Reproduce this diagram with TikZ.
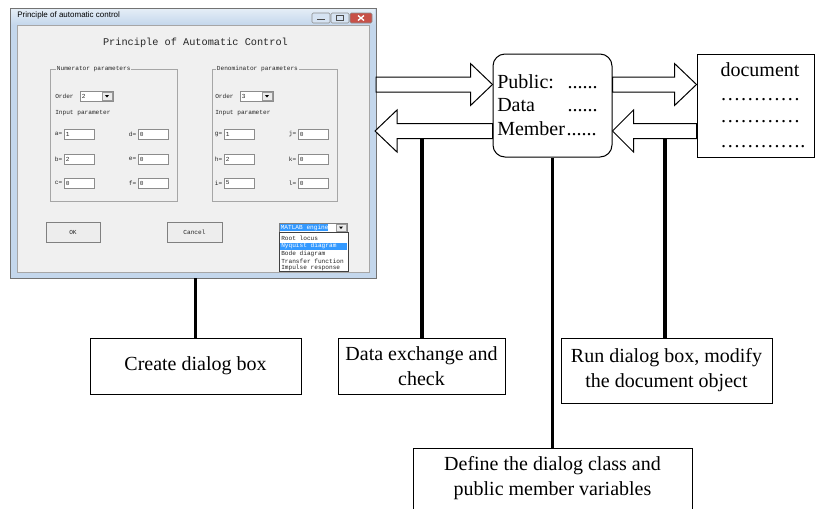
\documentclass[tikz,border=0pt]{standalone}
\usepackage{fontspec}
\setmainfont{Liberation Serif}
\newfontfamily\dlgfont{Liberation Mono}
\newfontfamily\winfont{Liberation Sans}
\usetikzlibrary{calc,positioning}
\definecolor{winframe}{RGB}{196,215,236}
\definecolor{wingray}{RGB}{240,240,240}
\definecolor{selblue}{RGB}{51,153,255}
\definecolor{closered}{RGB}{199,80,72}
\tikzset{
  dlgtext/.style={font=\dlgfont\fontsize{4.6}{5}\selectfont, inner sep=0pt, text=black!85},
  maintext/.style={font=\fontsize{15}{18.75}\selectfont, inner sep=0pt},
  textbox/.style={draw, line width=0.75pt, fill=white, align=center, inner sep=0pt, font=\fontsize{15}{18.75}\selectfont},
  hollowarrow/.style={draw, line width=0.75pt, fill=white},
  stem/.style={line width=2.3pt},
}
\def\editbox(#1,#2)#3#4{\draw[fill=white, draw=black!45] (#1,#2) rectangle ++(30,10);
  \node[dlgtext, anchor=east] at (#1-1.5,#2+5) {#3};
  \node[dlgtext, anchor=west] at (#1+1.5,#2+5) {#4};}
\def\combobox(#1,#2)#3{\draw[fill=white, draw=black!45] (#1,#2) rectangle ++(33,10);
  \draw[fill=black!8, draw=black!40] (#1+22,#2+1) rectangle ++(10,8);
  \fill (#1+25,#2+4) -- ++(4,0) -- ++(-2,2.5) -- cycle;
  \node[dlgtext, anchor=west] at (#1+1.5,#2+5) {#3};}
\def\blockarrow[#1](#2)(#3){\draw[hollowarrow] ($(#2)+(0,-7.5)$) -- ($(#3)+(#1,-7.5)$) -- ($(#3)+(#1,-21)$) -- (#3)
  -- ($(#3)+(#1,21)$) -- ($(#3)+(#1,7.5)$) -- ($(#2)+(0,7.5)$) -- cycle;}

\begin{document}
\begin{tikzpicture}[x=0.75pt, y=-0.75pt]
		\useasboundingbox (0,0) rectangle (815,508);
		
		%%%%% dialog window %%%%%
		\draw[fill=winframe, draw=black!55] (10,8) rectangle (376,278);
		\shade[top color=white!55!winframe, bottom color=winframe] (11,9) rectangle (375,25);
		\node[font=\winfont\fontsize{6}{7}\selectfont, anchor=west, inner sep=0pt] (wintitle) at (17,15.5) {Principle of automatic control};
		\draw[fill=winframe!70, draw=black!45, rounded corners=1pt] (312,13) rectangle (330,23);
		\draw[line width=1pt, black!70] (317,19.5) -- (325,19.5);
		\draw[fill=winframe!70, draw=black!45, rounded corners=1pt] (331,13) rectangle (349,23);
		\draw[black!70] (336.5,15.5) rectangle (343.5,20.5);
		\draw[fill=closered, draw=black!45, rounded corners=1pt] (350,13) rectangle (372,23);
		\draw[white, line width=1pt] (358,15.5) -- (364,20.5) (358,20.5) -- (364,15.5);
		\draw[fill=wingray, draw=black!35] (17,25) rectangle (369,272);
		
		\node[font=\dlgfont\fontsize{7.7}{9}\selectfont, text=black!85, inner sep=0pt] (dlghead) at (195.5,43) {Principle of Automatic Control};
		
		\draw[draw=black!35] (50,69) rectangle (177,201);
		\node[dlgtext, fill=wingray, anchor=west, inner xsep=0.5pt] (numgroup) at (56,69) {Numerator parameters};
		\node[dlgtext, anchor=west] (numorder) at (55,96) {Order};
		\combobox(80,91){2}
		\node[dlgtext, anchor=west] (numinput) at (55,113) {Input parameter};
		\editbox(64,129){a=}{1}
		\editbox(64,154){b=}{2}
		\editbox(64,178){c=}{0}
		\editbox(138,129){d=}{0}
		\editbox(138,154){e=}{0}
		\editbox(138,178){f=}{0}
		
		\draw[draw=black!35] (212,69) rectangle (337,201);
		\node[dlgtext, fill=wingray, anchor=west, inner xsep=0.5pt] (dengroup) at (216,69) {Denominator parameters};
		\node[dlgtext, anchor=west] (denorder) at (215,96) {Order};
		\combobox(240,91){3}
		\node[dlgtext, anchor=west] (deninput) at (215,113) {Input parameter};
		\editbox(224,129){g=}{1}
		\editbox(224,154){h=}{2}
		\editbox(224,178){i=}{5}
		\editbox(298,129){j=}{0}
		\editbox(298,154){k=}{0}
		\editbox(298,178){l=}{0}
		
		\draw[fill=black!7, draw=black!50] (46,222) rectangle (100,242);
		\node[dlgtext] (okbtn) at (73,232) {OK};
		\draw[fill=black!7, draw=black!50] (167,222) rectangle (222,242);
		\node[dlgtext] (cancelbtn) at (194.5,232) {Cancel};
		
		\draw[fill=white, draw=black!50] (279,223) rectangle (347,232);
		\fill[selblue] (280,224) rectangle (328,231);
		\node[dlgtext, text=white, anchor=west] (engine) at (280.5,227.5) {MATLAB engine};
		\draw[fill=black!8, draw=black!40] (336,224) rectangle (346,231);
		\fill (339,226.5) -- ++(4,0) -- ++(-2,2.5) -- cycle;
		\draw[fill=white, draw=black!75] (279,232) rectangle (348,271);
		\fill[selblue] (280,242.5) rectangle (347,249.5);
		\node[dlgtext, anchor=west] (root) at (281,238.5) {Root locus};
		\node[dlgtext, anchor=west, text=white] (nyquist) at (281,246) {Nyquist diagram};
		\node[dlgtext, anchor=west] (bode) at (281,253.5) {Bode diagram};
		\node[dlgtext, anchor=west] (transfer) at (281,261) {Transfer function};
		\node[dlgtext, anchor=west] (impulse) at (281,268) {Impulse response};
		
		%%%%% class and document %%%%%
		\coordinate (winout) at (376,84.5);
		\coordinate (winin) at (375,131);
		\coordinate (winbot) at (195.5,278);
		
		\node[textbox, minimum width=89.25pt, minimum height=77.25pt, rounded corners=9pt] (pub) at (552.5,105.5) {};
		\node[textbox, minimum width=87.75pt, minimum height=77.25pt] (doc) at (755.5,105.5) {};
		
		\coordinate (pubinL) at (pub.west |- winout);
		\coordinate (puboutL) at (pub.west |- winin);
		\coordinate (puboutR) at (pub.east |- winout);
		\coordinate (pubinR) at (pub.east |- winin);
		\coordinate (docin) at (doc.west |- winout);
		\coordinate (docout) at (doc.west |- winin);
		
		\blockarrow[-22](winout)(pubinL)
		\blockarrow[22](puboutL)(winin)
		\blockarrow[-22](puboutR)(docin)
		\blockarrow[21](docout)(pubinR)
		
		\node[maintext, anchor=base west] (public) at (497,88) {Public:};
		\node[maintext, anchor=base west] (data) at (497,111.5) {Data};
		\node[maintext, anchor=base west] (member) at (497,135) {Member};
		\node[maintext, anchor=base east] (dotsA) at (598,88) {......};
		\node[maintext, anchor=base east] (dotsB) at (598,111.5) {......};
		\node[maintext, anchor=base east] (dotsC) at (597,135) {......};
		
		\node[maintext, anchor=base] (doctitle) at (760,76) {document};
		\node[maintext, anchor=base west] (docA) at (720,100) {…………};
		\node[maintext, anchor=base west] (docB) at (720,122) {…………};
		\node[maintext, anchor=base west] (docC) at (720,147) {………….};
		
		%%%%% steps %%%%%
		\node[textbox, minimum width=158.25pt, minimum height=42pt] (create) at (195.5,366) {Create dialog box};
		\node[textbox, minimum width=125.25pt, minimum height=42pt] (exchange) at (421.5,366) {Data exchange and\\check};
		\node[textbox, minimum width=158.25pt, minimum height=48.75pt] (run) at (666.5,370.5) {Run dialog box, modify\\the document object};
		\node[textbox, minimum width=209.25pt, minimum height=45.75pt] (define) at (552.5,478.5) {Define the dialog class and\\public member variables};
		
		\coordinate (exchtop) at (422,139);
		\coordinate (runtop) at (665,139);
		\draw[stem] (winbot) -- (create.north);
		\draw[stem] (exchtop) -- (exchtop |- exchange.north);
		\draw[stem] (pub.south) -- (pub.south |- define.north);
		\draw[stem] (runtop) -- (runtop |- run.north);
		
		%%%%% END %%%%%
\end{tikzpicture}
\end{document}
